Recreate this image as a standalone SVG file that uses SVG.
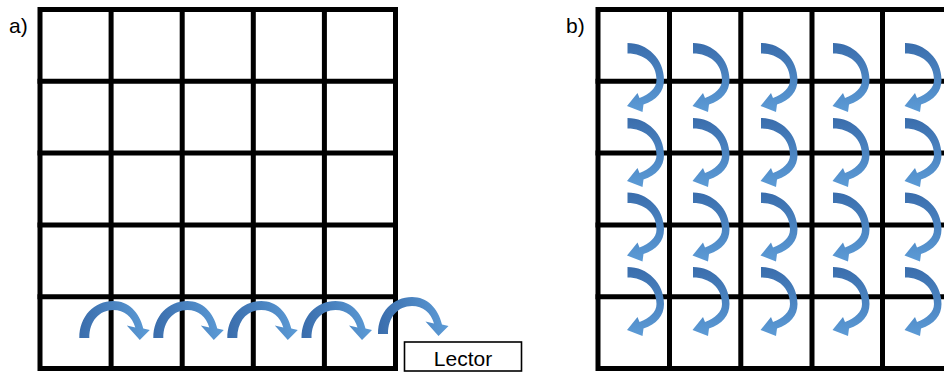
<svg xmlns="http://www.w3.org/2000/svg" width="944" height="372" viewBox="0 0 944 372">
  <style>
    .grid { fill: none; stroke: #000; stroke-width: 5; stroke-linecap: square; }
    .label { font-family: "Liberation Sans", Arial, sans-serif; font-size: 21px; fill: #000; }
    .box { fill: #fff; stroke: #000; stroke-width: 1.6; }
  </style>
  <defs>
    <linearGradient id="gradH" x1="0" y1="0" x2="1" y2="0">
      <stop offset="0" stop-color="#3a6dac"/>
      <stop offset="1" stop-color="#5c9bd6"/>
    </linearGradient>
    <linearGradient id="gradV" x1="0" y1="0" x2="0" y2="1">
      <stop offset="0" stop-color="#3a6dac"/>
      <stop offset="1" stop-color="#5c9bd6"/>
    </linearGradient>
    <!-- arched arrow hopping to the right, origin at outer foot -->
    <path id="hop" fill="url(#gradH)" d="M0 0 C0 -22 15 -37 34 -37 C49 -37 60 -26 64 -9.5 L70.5 -8 L60.5 2 L47.5 -12.5 L56 -10.5 C53 -21 45 -28 34 -28 C20 -28 10 -17 10 0 Z"/>
    <!-- curved arrow turning back to the left, origin at top-left of tail -->
    <path id="turn" fill="url(#gradV)" d="M0 0 C20 0 36.5 16 36.5 37 C36.5 49 29 57 16 61.5 L15 69 L-0.5 63 L10 50 L12 55 C22 51 29 45 29 37 C29 21 17 10.5 0 10.5 Z"/>
  </defs>

  <!-- panel a -->
  <g id="panel-a">
    <text class="label" x="9" y="33">a)</text>
    <g id="grid-a" class="grid">
      <rect x="40" y="9.5" width="355.5" height="359"/>
      <path d="M111.1 9.5V368.5M182.2 9.5V368.5M253.3 9.5V368.5M324.4 9.5V368.5"/>
      <path d="M40 81.3H395.5M40 153.1H395.5M40 224.9H395.5M40 296.7H395.5"/>
    </g>
    <g id="lector">
      <rect class="box" x="404.5" y="342" width="117" height="29"/>
      <text class="label" x="463" y="366" text-anchor="middle">Lector</text>
    </g>
  </g>

  <!-- panel b -->
  <g id="panel-b">
    <text class="label" x="566" y="33">b)</text>
    <g id="grid-b" class="grid">
      <rect x="598" y="9.5" width="355" height="359"/>
      <path d="M669.5 9.5V368.5M740.8 9.5V368.5M812 9.5V368.5M882.5 9.5V368.5"/>
      <path d="M598 81.3H953M598 153.1H953M598 224.9H953M598 296.7H953"/>
    </g>
  </g>

  <!-- connectors -->
  <g id="connectors">
    <g id="hops">
      <use href="#hop" x="79.3" y="338"/>
      <use href="#hop" x="153.3" y="338"/>
      <use href="#hop" x="227.3" y="338"/>
      <use href="#hop" x="301.5" y="338"/>
      <use href="#hop" x="378" y="334"/>
    </g>
    <g id="turns">
      <use href="#turn" x="627.5" y="43"/>
      <use href="#turn" x="627.5" y="118"/>
      <use href="#turn" x="627.5" y="192.5"/>
      <use href="#turn" x="627.5" y="267"/>
      <use href="#turn" x="693" y="43"/>
      <use href="#turn" x="693" y="118"/>
      <use href="#turn" x="693" y="192.5"/>
      <use href="#turn" x="693" y="267"/>
      <use href="#turn" x="761" y="43"/>
      <use href="#turn" x="761" y="118"/>
      <use href="#turn" x="761" y="192.5"/>
      <use href="#turn" x="761" y="267"/>
      <use href="#turn" x="833" y="43"/>
      <use href="#turn" x="833" y="118"/>
      <use href="#turn" x="833" y="192.5"/>
      <use href="#turn" x="833" y="267"/>
      <use href="#turn" x="905" y="43"/>
      <use href="#turn" x="905" y="118"/>
      <use href="#turn" x="905" y="192.5"/>
      <use href="#turn" x="905" y="267"/>
    </g>
  </g>
</svg>
